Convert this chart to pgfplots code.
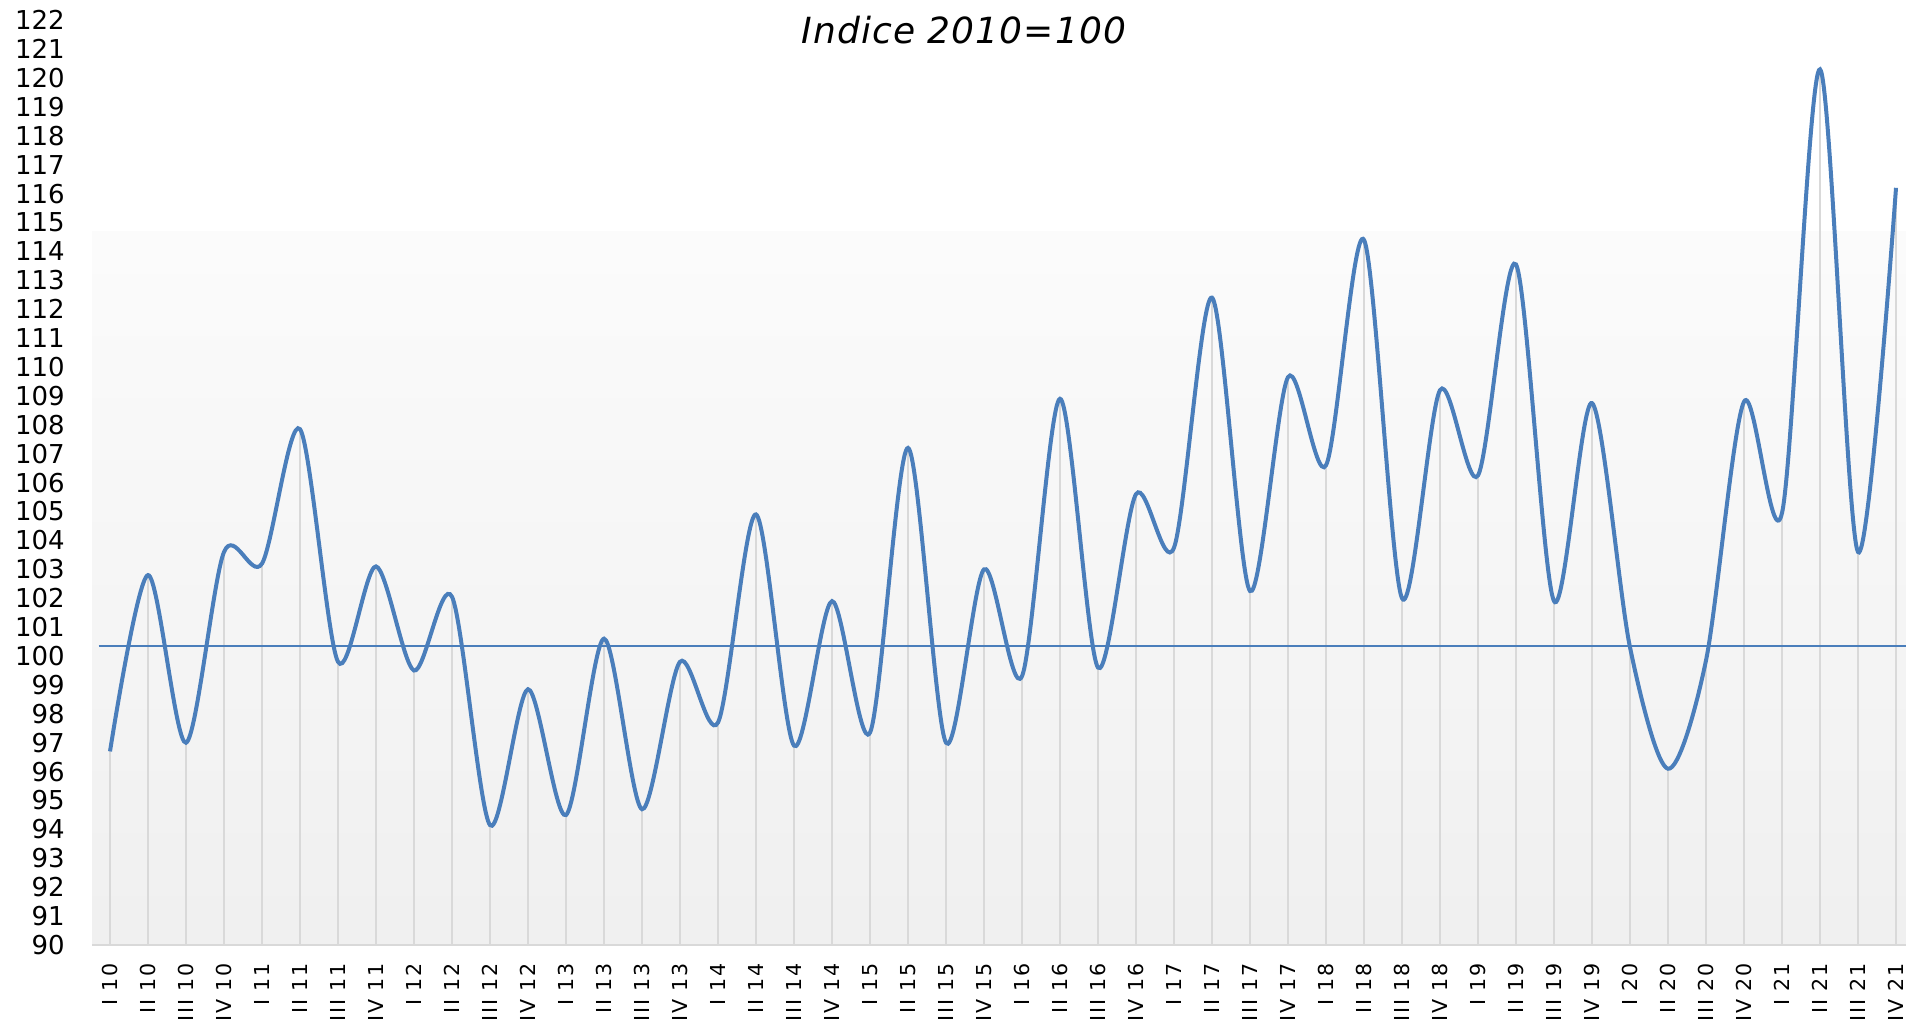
\documentclass[border=0pt]{standalone}
\usepackage{fontspec}
\setmainfont{DejaVu Sans}
\usepackage{pgfplots}
\usepackage{pgfplotstable}
\pgfplotsset{compat=1.18}
\definecolor{lineblue}{RGB}{74,126,187}
\pgfplotstableread{
x y
0 96.7
1 102.8
2 97.0
3 103.6
4 103.2
5 107.85
6 99.8
7 103.1
8 99.5
9 102.05
10 94.15
11 98.85
12 94.5
13 100.6
14 94.7
15 99.8
16 97.7
17 104.9
18 96.9
19 101.9
20 97.35
21 107.2
22 97.0
23 103.0
24 99.3
25 108.9
26 99.6
27 105.6
28 103.75
29 112.4
30 102.25
31 109.65
32 106.6
33 114.4
34 102.0
35 109.2
36 106.25
37 113.55
38 101.9
39 108.75
40 100.3
41 96.1
42 99.85
43 108.8
44 104.95
45 120.3
46 103.6
47 116.2
}\datatable
\begin{document}
\begin{tikzpicture}
\begin{axis}[
  x=19pt, y=14.45pt,
  xmin=-0.47, xmax=47.26, ymin=90, ymax=122,
  axis line style={draw=none},
  clip mode=individual,
  major tick length=0pt,
  ytick={90,...,122},
  xtick={0,...,47},
  xticklabels={I 10,II 10,III 10,IV 10,I 11,II 11,III 11,IV 11,I 12,II 12,III 12,IV 12,I 13,II 13,III 13,IV 13,I 14,II 14,III 14,IV 14,I 15,II 15,III 15,IV 15,I 16,II 16,III 16,IV 16,I 17,II 17,III 17,IV 17,I 18,II 18,III 18,IV 18,I 19,II 19,III 19,IV 19,I 20,II 20,III 20,IV 20,I 21,II 21,III 21,IV 21},
  /pgf/number format/assume math mode=true,
  yticklabel style={font=\fontsize{13}{13}\selectfont, inner sep=0pt, xshift=-13.5pt},
  xticklabel style={font=\fontsize{10.3}{10.3}\selectfont\addfontfeature{LetterSpace=8}, yshift=-9pt, rotate=90, anchor=east, inner sep=0pt},
]
\coordinate (BL) at (axis cs:-2.895,87.197);
\coordinate (TR) at (axis cs:47.263,122.70);
\path[top color=black!1.5, bottom color=black!6] (axis cs:-0.47,90) rectangle (axis cs:47.26,114.7);
\draw[gray!30, line width=1pt] (axis cs:-0.47,90) -- (axis cs:47.26,90);
\addplot[ycomb, draw=gray!30, line width=0.75pt, mark=none] table[x=x,y=y] {\datatable};
\addplot[lineblue, line width=1pt, mark=none] coordinates {(-0.3,100.36) (47.26,100.36)};
\addplot[lineblue, line width=2pt, mark=none, smooth, tension=0.5] table[x=x,y=y] {\datatable};
\node[anchor=base, font=\fontsize{18}{18}\selectfont\itshape\addfontfeature{LetterSpace=3}] at (axis cs:22.47,121.21) {Indice 2010=100};
\end{axis}
\pgfresetboundingbox
\useasboundingbox (BL) rectangle (TR);
\end{tikzpicture}
\end{document}
